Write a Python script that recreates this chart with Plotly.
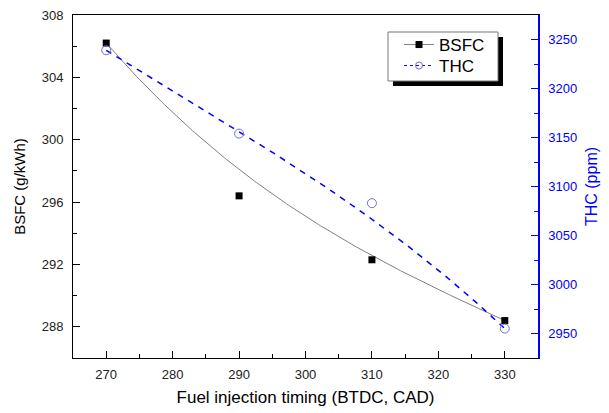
import numpy as np
import plotly.graph_objects as go

# ---- data ----
timing = [270, 290, 310, 330]
bsfc = [306.2, 296.4, 292.3, 288.4]
thc = [3239, 3154, 3083, 2955]


def bezier(xs, ys, n=200):
    """Cubic B-spline/Bezier smoothing through the data control points."""
    pts = np.column_stack([xs, ys]).astype(float)
    t = np.linspace(0, 1, n)
    out = []
    for tt in t:
        p = pts.copy()
        while len(p) > 1:
            p = (1 - tt) * p[:-1] + tt * p[1:]
        out.append(p[0])
    out = np.array(out)
    return out[:, 0], out[:, 1]


bx, by = bezier(timing, bsfc)
tx, ty = bezier(timing, thc)

FONT = "Liberation Sans, Arial, sans-serif"
BLUE = "#0000FF"

W, H = 609, 413
ML, MR, MT, MB = 73, 71, 15, 55
PW, PH = W - ML - MR, H - MT - MB


def px(x):  # pixel -> paper x
    return (x - ML) / PW


def py(y):  # pixel -> paper y
    return (H - MB - y) / PH


fig = go.Figure()

# smooth curves
fig.add_trace(go.Scatter(x=bx, y=by, mode="lines", line=dict(color="#808080", width=1),
                         showlegend=False, hoverinfo="skip"))
fig.add_trace(go.Scatter(x=tx, y=ty, mode="lines", yaxis="y2",
                         line=dict(color=BLUE, width=1.5, dash="6px,6px"),
                         showlegend=False, hoverinfo="skip"))
# markers
fig.add_trace(go.Scatter(x=timing, y=bsfc, mode="markers", name="BSFC",
                         marker=dict(symbol="square", size=7, color="black"),
                         showlegend=False))
fig.add_trace(go.Scatter(x=timing, y=thc, mode="markers", name="THC", yaxis="y2",
                         marker=dict(symbol="circle-open", size=9, color="#6f6fd0",
                                     line=dict(width=1)),
                         showlegend=False))
# legend-only entries
fig.add_trace(go.Scatter(x=[None], y=[None], mode="lines+markers", name="BSFC",
                         line=dict(color="#808080", width=1),
                         marker=dict(symbol="square", size=7, color="black"),
                         legend="legend"))
fig.add_trace(go.Scatter(x=[None], y=[None], mode="lines+markers", name="THC", yaxis="y2",
                         line=dict(color=BLUE, width=1, dash="3px,3px"),
                         marker=dict(symbol="circle-open", size=7, color="#6f6fd0",
                                     line=dict(width=1)),
                         legend="legend2"))

leg_common = dict(xanchor="left", yanchor="middle", bgcolor="rgba(0,0,0,0)",
                  borderwidth=0, font=dict(size=17, color="black"), itemwidth=30)

fig.update_layout(
    width=W, height=H,
    margin=dict(l=ML, r=MR, t=MT, b=MB),
    paper_bgcolor="white", plot_bgcolor="white",
    font=dict(family=FONT, size=13, color="#222222"),
    showlegend=True,
    legend=dict(x=px(399), y=py(45), **leg_common),
    legend2=dict(x=px(399), y=py(66), **leg_common),
    shapes=[
        dict(type="rect", xref="paper", yref="paper", layer="above",
             x0=px(393), x1=px(503), y0=py(86), y1=py(37),
             fillcolor="black", line=dict(width=0)),
        dict(type="rect", xref="paper", yref="paper", layer="above",
             x0=px(388), x1=px(498), y0=py(81), y1=py(32),
             fillcolor="white", line=dict(color="#777777", width=1)),
    ],
    xaxis=dict(range=[265, 335], tick0=270, dtick=10, showgrid=False, zeroline=False,
               automargin=False,
               showline=True, linecolor="black", linewidth=1, mirror=True,
               ticks="inside", ticklen=7, tickcolor="black", ticklabelstandoff=4,
               minor=dict(dtick=5, ticks="inside", ticklen=4, tickcolor="black"),
               title=dict(text="Fuel injection timing (BTDC, CAD)", font=dict(size=17, color="black"),
                          standoff=10),
               tickfont=dict(size=13, color="#222222")),
    yaxis=dict(range=[286, 308], tick0=288, dtick=4, showgrid=False, zeroline=False,
               automargin=False,
               showline=True, linecolor="black", linewidth=1,
               ticks="inside", ticklen=7, tickcolor="black", ticklabelstandoff=6,
               minor=dict(dtick=2, ticks="inside", ticklen=4, tickcolor="black"),
               title=dict(text="BSFC (g/kWh)", font=dict(size=15, color="black"), standoff=12),
               tickfont=dict(size=13, color="#222222")),
    yaxis2=dict(range=[2925, 3275], tick0=2950, dtick=50, overlaying="y", side="right",
                showgrid=False, zeroline=False, automargin=False,
                showline=True, linecolor=BLUE, linewidth=1.5,
                ticks="inside", ticklen=7, tickcolor=BLUE, ticklabelstandoff=6,
                minor=dict(dtick=25, ticks="inside", ticklen=4, tickcolor=BLUE),
                title=dict(text="THC (ppm)", font=dict(size=16, color=BLUE), standoff=10),
                tickfont=dict(size=13, color=BLUE)),
)

fig.write_html("out.html", config={"displayModeBar": False},
               post_script="document.body.style.margin='0px';document.body.style.overflow='hidden';")
